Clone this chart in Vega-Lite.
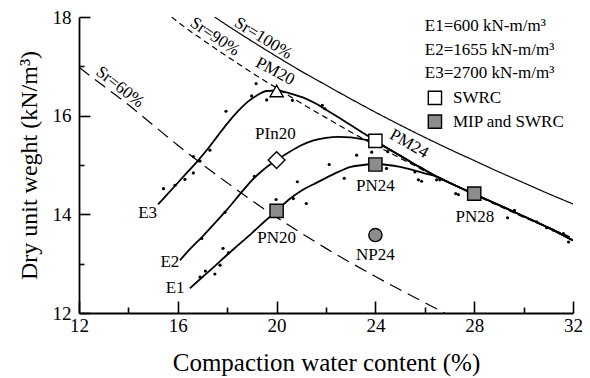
{
  "$schema": "https://vega.github.io/schema/vega-lite/v6.json",
  "width": 494,
  "height": 296,
  "autosize": "none",
  "padding": {"left": 79, "top": 17, "right": 17, "bottom": 65},
  "background": "white",
  "config": {
    "font": "Liberation Serif",
    "view": {"stroke": null},
    "text": {"font": "Liberation Serif"},
    "axis": {
      "grid": false,
      "domainColor": "black",
      "tickColor": "black",
      "domainWidth": 1.8,
      "tickWidth": 1.6,
      "labelColor": "black",
      "titleColor": "black",
      "labelFont": "Liberation Serif",
      "titleFont": "Liberation Serif",
      "labelFontSize": 19,
      "titleFontWeight": "normal",
      "labelFlush": false,
      "labelOverlap": false
    }
  },
  "datasets": {
    "curves": [
      {"s": "Sr100", "w": 17.49, "g": 18.0}, {"s": "Sr100", "w": 18, "g": 17.83}, {"s": "Sr100", "w": 19, "g": 17.51}, {"s": "Sr100", "w": 20, "g": 17.2}, {"s": "Sr100", "w": 21, "g": 16.9}, {"s": "Sr100", "w": 22, "g": 16.62}, {"s": "Sr100", "w": 23, "g": 16.34}, {"s": "Sr100", "w": 24, "g": 16.07}, {"s": "Sr100", "w": 25, "g": 15.81}, {"s": "Sr100", "w": 26, "g": 15.56}, {"s": "Sr100", "w": 27, "g": 15.32}, {"s": "Sr100", "w": 28, "g": 15.09}, {"s": "Sr100", "w": 29, "g": 14.86}, {"s": "Sr100", "w": 30, "g": 14.64}, {"s": "Sr100", "w": 31, "g": 14.42}, {"s": "Sr100", "w": 32, "g": 14.21},
      {"s": "Sr90", "w": 15.75, "g": 18.0}, {"s": "Sr90", "w": 16, "g": 17.9}, {"s": "Sr90", "w": 17, "g": 17.54}, {"s": "Sr90", "w": 18, "g": 17.2}, {"s": "Sr90", "w": 19, "g": 16.87}, {"s": "Sr90", "w": 20, "g": 16.56}, {"s": "Sr90", "w": 21, "g": 16.25}, {"s": "Sr90", "w": 22, "g": 15.96}, {"s": "Sr90", "w": 23, "g": 15.67}, {"s": "Sr90", "w": 24, "g": 15.4}, {"s": "Sr90", "w": 25, "g": 15.14}, {"s": "Sr90", "w": 26, "g": 14.88}, {"s": "Sr90", "w": 27, "g": 14.64}, {"s": "Sr90", "w": 28, "g": 14.4}, {"s": "Sr90", "w": 29, "g": 14.17}, {"s": "Sr90", "w": 30, "g": 13.94}, {"s": "Sr90", "w": 31, "g": 13.73}, {"s": "Sr90", "w": 32, "g": 13.52},
      {"s": "Sr60", "w": 12, "g": 16.98}, {"s": "Sr60", "w": 13, "g": 16.6}, {"s": "Sr60", "w": 14, "g": 16.22}, {"s": "Sr60", "w": 15, "g": 15.81}, {"s": "Sr60", "w": 16, "g": 15.4}, {"s": "Sr60", "w": 17, "g": 15.01}, {"s": "Sr60", "w": 18, "g": 14.64}, {"s": "Sr60", "w": 19, "g": 14.28}, {"s": "Sr60", "w": 20, "g": 13.94}, {"s": "Sr60", "w": 21, "g": 13.62}, {"s": "Sr60", "w": 22, "g": 13.31}, {"s": "Sr60", "w": 23, "g": 13.02}, {"s": "Sr60", "w": 24, "g": 12.74}, {"s": "Sr60", "w": 25, "g": 12.47}, {"s": "Sr60", "w": 26, "g": 12.21}, {"s": "Sr60", "w": 26.8, "g": 12.0}
    ],
    "compaction": [
      {"e": "E3", "w": 15.2, "g": 14.2}, {"e": "E3", "w": 15.6, "g": 14.42}, {"e": "E3", "w": 16.0, "g": 14.64}, {"e": "E3", "w": 16.4, "g": 14.86}, {"e": "E3", "w": 16.8, "g": 15.08}, {"e": "E3", "w": 17.2, "g": 15.32}, {"e": "E3", "w": 17.6, "g": 15.58}, {"e": "E3", "w": 18.0, "g": 15.84}, {"e": "E3", "w": 18.4, "g": 16.07}, {"e": "E3", "w": 18.8, "g": 16.27}, {"e": "E3", "w": 19.2, "g": 16.41}, {"e": "E3", "w": 19.6, "g": 16.5}, {"e": "E3", "w": 20.0, "g": 16.51}, {"e": "E3", "w": 20.4, "g": 16.47}, {"e": "E3", "w": 20.8, "g": 16.41}, {"e": "E3", "w": 21.2, "g": 16.34}, {"e": "E3", "w": 21.6, "g": 16.24}, {"e": "E3", "w": 22.0, "g": 16.12}, {"e": "E3", "w": 22.5, "g": 15.97}, {"e": "E3", "w": 23.0, "g": 15.81}, {"e": "E3", "w": 23.5, "g": 15.65}, {"e": "E3", "w": 24.0, "g": 15.49}, {"e": "E3", "w": 24.5, "g": 15.34}, {"e": "E3", "w": 25.0, "g": 15.19}, {"e": "E3", "w": 25.5, "g": 15.04}, {"e": "E3", "w": 26.0, "g": 14.9}, {"e": "E3", "w": 26.5, "g": 14.76}, {"e": "E3", "w": 27.0, "g": 14.64}, {"e": "E3", "w": 28.0, "g": 14.41}, {"e": "E3", "w": 29.0, "g": 14.19}, {"e": "E3", "w": 30.0, "g": 13.96}, {"e": "E3", "w": 31.0, "g": 13.73}, {"e": "E3", "w": 32.0, "g": 13.47},
      {"e": "E2", "w": 16.09, "g": 13.07}, {"e": "E2", "w": 16.5, "g": 13.3}, {"e": "E2", "w": 17.0, "g": 13.55}, {"e": "E2", "w": 17.5, "g": 13.82}, {"e": "E2", "w": 18.0, "g": 14.1}, {"e": "E2", "w": 18.5, "g": 14.4}, {"e": "E2", "w": 19.0, "g": 14.69}, {"e": "E2", "w": 19.5, "g": 14.92}, {"e": "E2", "w": 20.0, "g": 15.1}, {"e": "E2", "w": 20.5, "g": 15.26}, {"e": "E2", "w": 21.0, "g": 15.4}, {"e": "E2", "w": 21.5, "g": 15.5}, {"e": "E2", "w": 22.0, "g": 15.55}, {"e": "E2", "w": 22.5, "g": 15.57}, {"e": "E2", "w": 23.0, "g": 15.56}, {"e": "E2", "w": 23.5, "g": 15.52}, {"e": "E2", "w": 24.0, "g": 15.47}, {"e": "E2", "w": 24.5, "g": 15.33}, {"e": "E2", "w": 25.0, "g": 15.19}, {"e": "E2", "w": 25.5, "g": 15.04}, {"e": "E2", "w": 26.0, "g": 14.9}, {"e": "E2", "w": 26.5, "g": 14.76}, {"e": "E2", "w": 27.0, "g": 14.64}, {"e": "E2", "w": 28.0, "g": 14.41}, {"e": "E2", "w": 29.0, "g": 14.19}, {"e": "E2", "w": 30.0, "g": 13.96}, {"e": "E2", "w": 31.0, "g": 13.73}, {"e": "E2", "w": 32.0, "g": 13.47},
      {"e": "E1", "w": 16.49, "g": 12.5}, {"e": "E1", "w": 17.0, "g": 12.73}, {"e": "E1", "w": 17.5, "g": 12.95}, {"e": "E1", "w": 18.0, "g": 13.18}, {"e": "E1", "w": 18.5, "g": 13.4}, {"e": "E1", "w": 19.0, "g": 13.62}, {"e": "E1", "w": 19.5, "g": 13.85}, {"e": "E1", "w": 20.0, "g": 14.07}, {"e": "E1", "w": 20.5, "g": 14.3}, {"e": "E1", "w": 21.0, "g": 14.48}, {"e": "E1", "w": 21.5, "g": 14.61}, {"e": "E1", "w": 22.0, "g": 14.74}, {"e": "E1", "w": 22.5, "g": 14.86}, {"e": "E1", "w": 23.0, "g": 14.96}, {"e": "E1", "w": 23.5, "g": 15.0}, {"e": "E1", "w": 24.0, "g": 15.02}, {"e": "E1", "w": 24.5, "g": 15.0}, {"e": "E1", "w": 25.0, "g": 14.96}, {"e": "E1", "w": 25.5, "g": 14.9}, {"e": "E1", "w": 26.0, "g": 14.83}, {"e": "E1", "w": 26.5, "g": 14.76}, {"e": "E1", "w": 27.0, "g": 14.64}, {"e": "E1", "w": 28.0, "g": 14.41}, {"e": "E1", "w": 29.0, "g": 14.19}, {"e": "E1", "w": 30.0, "g": 13.96}, {"e": "E1", "w": 31.0, "g": 13.73}, {"e": "E1", "w": 32.0, "g": 13.47}
    ],
    "dots": [
      {"w": 15.42, "g": 14.52}, {"w": 15.89, "g": 14.59}, {"w": 16.29, "g": 14.71}, {"w": 16.63, "g": 14.84}, {"w": 16.63, "g": 15.17}, {"w": 16.9, "g": 15.08}, {"w": 17.3, "g": 15.3}, {"w": 17.95, "g": 16.09}, {"w": 18.99, "g": 16.4}, {"w": 19.17, "g": 16.65}, {"w": 19.6, "g": 16.32}, {"w": 20.14, "g": 16.46}, {"w": 20.64, "g": 16.31}, {"w": 21.85, "g": 16.21}, {"w": 21.96, "g": 16.14},
      {"w": 16.97, "g": 13.51}, {"w": 17.91, "g": 14.04}, {"w": 19.1, "g": 14.77},
      {"w": 16.9, "g": 12.73}, {"w": 17.12, "g": 12.85}, {"w": 17.5, "g": 12.79}, {"w": 17.71, "g": 12.97}, {"w": 17.83, "g": 13.31}, {"w": 18.05, "g": 13.22}, {"w": 19.98, "g": 14.3}, {"w": 20.68, "g": 14.32}, {"w": 20.84, "g": 14.66}, {"w": 21.2, "g": 14.22}, {"w": 22.13, "g": 15.01}, {"w": 22.74, "g": 14.73}, {"w": 23.24, "g": 15.2}, {"w": 23.85, "g": 15.26}, {"w": 24.5, "g": 15.27}, {"w": 24.45, "g": 14.93}, {"w": 25.6, "g": 14.86}, {"w": 25.74, "g": 14.7}, {"w": 25.87, "g": 14.67}, {"w": 26.48, "g": 14.7}, {"w": 26.61, "g": 14.7}, {"w": 27.25, "g": 14.42}, {"w": 27.36, "g": 14.4}, {"w": 29.35, "g": 13.93}, {"w": 29.63, "g": 14.08}, {"w": 30.53, "g": 13.85}, {"w": 30.93, "g": 13.73}, {"w": 31.2, "g": 13.68}, {"w": 31.61, "g": 13.61}, {"w": 31.82, "g": 13.44}
    ],
    "markers": [
      {"id": "PM20", "kind": "SWRC", "w": 20, "g": 16.5},
      {"id": "PIn20", "kind": "SWRC", "w": 20, "g": 15.1},
      {"id": "PM24", "kind": "SWRC", "w": 24, "g": 15.49},
      {"id": "PN20", "kind": "MIP and SWRC", "w": 20, "g": 14.07},
      {"id": "PN24", "kind": "MIP and SWRC", "w": 24, "g": 15.01},
      {"id": "PN28", "kind": "MIP and SWRC", "w": 28, "g": 14.42},
      {"id": "NP24", "kind": "MIP", "w": 24, "g": 13.58},
      {"id": "key SWRC", "kind": "SWRC", "w": 26.41, "g": 16.36},
      {"id": "key MIP and SWRC", "kind": "MIP and SWRC", "w": 26.41, "g": 15.88}
    ],
    "labels": [
      {"t": "PIn20", "w": 19.95, "g": 15.62},
      {"t": "PN20", "w": 20.0, "g": 13.53},
      {"t": "PN24", "w": 24.0, "g": 14.58},
      {"t": "PN28", "w": 28.03, "g": 13.95},
      {"t": "NP24", "w": 24.0, "g": 13.17},
      {"t": "E1", "w": 15.89, "g": 12.5},
      {"t": "E2", "w": 15.68, "g": 13.04},
      {"t": "E3", "w": 14.78, "g": 14.02}
    ],
    "rotlabels": [
      {"t": "Sr=100%", "w": 19.46, "g": 17.57},
      {"t": "Sr=90%", "w": 17.5, "g": 17.6},
      {"t": "Sr=60%", "w": 13.66, "g": 16.58},
      {"t": "PM20", "w": 19.94, "g": 16.9},
      {"t": "PM24", "w": 25.36, "g": 15.43}
    ],
    "keytext": [
      {"t": "E1=600 kN-m/m³", "w": 26.0, "g": 17.71},
      {"t": "E2=1655 kN-m/m³", "w": 26.0, "g": 17.23},
      {"t": "E3=2700 kN-m/m³", "w": 26.0, "g": 16.77}
    ],
    "keylabels": [
      {"t": "SWRC", "w": 27.14, "g": 16.36},
      {"t": "MIP and SWRC", "w": 27.14, "g": 15.88}
    ]
  },
  "encoding": {
    "x": {
      "field": "w", "type": "quantitative",
      "scale": {"domain": [12, 32], "nice": false, "zero": false},
      "axis": {
        "title": "Compaction water content (%)",
        "titleFontSize": 25,
        "values": [12, 14, 16, 18, 20, 22, 24, 26, 28, 30, 32],
        "labelExpr": "datum.value % 4 === 0 ? datum.label : ''",
        "tickSize": {"condition": {"test": "datum.value % 4 === 0", "value": -12}, "value": -6},
        "labelPadding": 15,
        "titlePadding": 9
      }
    },
    "y": {
      "field": "g", "type": "quantitative",
      "scale": {"domain": [12, 18], "nice": false, "zero": false},
      "axis": {
        "title": "Dry unit weght (kN/m³)",
        "titleFontSize": 24,
        "values": [12, 13, 14, 15, 16, 17, 18],
        "labelExpr": "datum.value % 2 === 0 ? datum.label : ''",
        "tickSize": {"condition": {"test": "datum.value % 2 === 0", "value": -11}, "value": -5},
        "labelPadding": 19,
        "titlePadding": 11
      }
    }
  },
  "layer": [
    {
      "data": {"name": "curves"},
      "mark": {"type": "line", "color": "black", "strokeWidth": 1.2, "interpolate": "monotone", "clip": true},
      "encoding": {
        "strokeDash": {"field": "s", "type": "nominal", "legend": null,
          "scale": {"domain": ["Sr100", "Sr90", "Sr60"], "range": [[1, 0], [6, 4], [13, 7]]}}
      }
    },
    {
      "data": {"name": "compaction"},
      "mark": {"type": "line", "color": "black", "strokeWidth": 1.8, "interpolate": "monotone", "clip": true},
      "encoding": {"detail": {"field": "e", "type": "nominal"}}
    },
    {
      "data": {"name": "dots"},
      "mark": {"type": "point", "filled": true, "color": "black", "size": 10, "opacity": 1},
      "encoding": {}
    },
    {
      "data": {"name": "markers"},
      "transform": [{"filter": "datum.id !== 'PIn20'"}],
      "mark": {"type": "point", "filled": true, "stroke": "black", "strokeWidth": 1.4, "size": 175, "opacity": 1},
      "encoding": {
        "shape": {"field": "id", "type": "nominal", "legend": null,
          "scale": {"domain": ["PM20", "PM24", "PN20", "PN24", "PN28", "NP24", "key SWRC", "key MIP and SWRC"],
                    "range": ["triangle-up", "square", "square", "square", "square", "circle", "square", "square"]}},
        "fill": {"field": "kind", "type": "nominal", "legend": null,
          "scale": {"domain": ["SWRC", "MIP and SWRC", "MIP"], "range": ["white", "#8c8c8c", "#8c8c8c"]}}
      }
    },
    {
      "data": {"name": "markers"},
      "transform": [{"filter": "datum.id === 'PIn20'"}],
      "mark": {"type": "point", "shape": "diamond", "filled": true, "fill": "white", "stroke": "black", "strokeWidth": 1.4, "size": 280, "opacity": 1},
      "encoding": {}
    },
    {
      "data": {"name": "labels"},
      "mark": {"type": "text", "font": "Liberation Serif", "fontSize": 17, "align": "center", "baseline": "middle", "color": "black"},
      "encoding": {"text": {"field": "t"}}
    },
    {
      "data": {"name": "rotlabels"},
      "transform": [{"filter": "datum.t === 'Sr=100%'"}],
      "mark": {"type": "text", "font": "Liberation Serif", "fontSize": 17, "align": "center", "baseline": "middle", "color": "black", "angle": 32},
      "encoding": {"text": {"field": "t"}}
    },
    {
      "data": {"name": "rotlabels"},
      "transform": [{"filter": "datum.t === 'Sr=90%'"}],
      "mark": {"type": "text", "font": "Liberation Serif", "fontSize": 17, "align": "center", "baseline": "middle", "color": "black", "angle": 34},
      "encoding": {"text": {"field": "t"}}
    },
    {
      "data": {"name": "rotlabels"},
      "transform": [{"filter": "datum.t === 'Sr=60%'"}],
      "mark": {"type": "text", "font": "Liberation Serif", "fontSize": 17, "align": "center", "baseline": "middle", "color": "black", "angle": 38},
      "encoding": {"text": {"field": "t"}}
    },
    {
      "data": {"name": "rotlabels"},
      "transform": [{"filter": "datum.t === 'PM20'"}],
      "mark": {"type": "text", "font": "Liberation Serif", "fontSize": 17, "align": "center", "baseline": "middle", "color": "black", "angle": 28},
      "encoding": {"text": {"field": "t"}}
    },
    {
      "data": {"name": "rotlabels"},
      "transform": [{"filter": "datum.t === 'PM24'"}],
      "mark": {"type": "text", "font": "Liberation Serif", "fontSize": 17, "align": "center", "baseline": "middle", "color": "black", "angle": 30},
      "encoding": {"text": {"field": "t"}}
    },
    {
      "data": {"name": "keytext"},
      "mark": {"type": "text", "font": "Liberation Serif", "fontSize": 17, "align": "left", "baseline": "alphabetic", "color": "black"},
      "encoding": {"text": {"field": "t"}}
    },
    {
      "data": {"name": "keylabels"},
      "mark": {"type": "text", "font": "Liberation Serif", "fontSize": 17, "align": "left", "baseline": "middle", "color": "black"},
      "encoding": {"text": {"field": "t"}}
    }
  ]
}
